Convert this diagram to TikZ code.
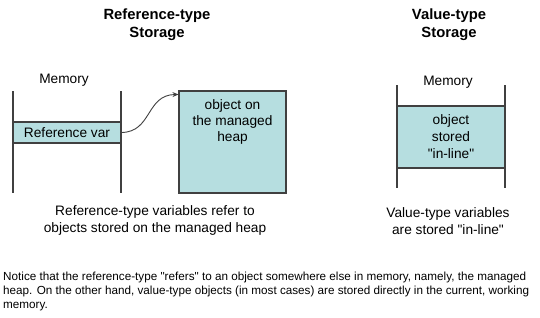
\documentclass[tikz,border=0pt]{standalone}
\usepackage{fontspec}
\setmainfont{Liberation Sans}[Ligatures=TeXOff]
\usetikzlibrary{arrows.meta}
\definecolor{cellfill}{RGB}{182,222,224}
\definecolor{edge}{RGB}{64,64,64}
\begin{document}
\begin{tikzpicture}[x=1pt,y=-1pt,
  title/.style={font=\fontsize{14.8}{18}\selectfont\bfseries, align=center, inner sep=0pt},
  lbl/.style={font=\fontsize{13.7}{17}\selectfont, align=center, inner sep=0pt},
  cell/.style={draw=edge, line width=1.1pt, fill=cellfill, inner sep=0pt},
  wall/.style={draw=edge, line width=1.1pt},
  note/.style={font=\fontsize{11.7}{14}\selectfont, align=left, inner sep=0pt}]
\useasboundingbox (0,0) rectangle (540,317);
% left titles
\node[title] (ltitle) at (157,25) {Reference-type\\Storage};
\node[lbl] (lmem) at (64,80) {Memory};
% left memory walls
\coordinate (l1t) at (13,91); \coordinate (l1b) at (13,193);
\coordinate (l2t) at (121,91); \coordinate (l2b) at (121,193);
\draw[wall] (l1t) -- (l1b);
\draw[wall] (l2t) -- (l2b);
\node[cell, minimum width=108pt, minimum height=21pt, font=\fontsize{13.7}{16}\selectfont] (refvar) at (67,132.5) {Reference var};
% heap object
\node[cell, minimum width=107pt, minimum height=102pt] (heap) at (232.5,142) {};
\node[lbl, font=\fontsize{13.7}{16}\selectfont, anchor=north] (heaptext) at ([yshift=-9pt]heap.north) {object on\\the managed\\heap};
\draw[edge, line width=0.9pt, -{Stealth[length=6pt,width=5pt]}] (refvar.east) .. controls (152,132) and (146,95) .. ([yshift=-4pt]heap.north west);
\node[lbl] (lcap) at (155,220.5) {Reference-type variables refer to\\objects stored on the managed heap};
% right
\node[title] (rtitle) at (449,25) {Value-type\\Storage};
\node[lbl] (rmem) at (448,82) {Memory};
\coordinate (r1t) at (397,85); \coordinate (r1b) at (397,188);
\coordinate (r2t) at (505,85); \coordinate (r2b) at (505,188);
\draw[wall] (r1t) -- (r1b);
\draw[wall] (r2t) -- (r2b);
\node[cell, minimum width=108pt, minimum height=62pt, align=center, font=\fontsize{13.7}{17}\selectfont] (valbox) at (451,137) {object\\stored\\"in-line"};
\node[lbl] (rcap) at (448,221) {Value-type variables\\are stored "in-line"};
% bottom note
\node[note, anchor=north west] (note) at (3,272) {Notice that the reference-type "refers" to an object somewhere else in memory, namely, the managed\\heap. On the other hand, value-type objects (in most cases) are stored directly in the current, working\\memory.};
\end{tikzpicture}
\end{document}
